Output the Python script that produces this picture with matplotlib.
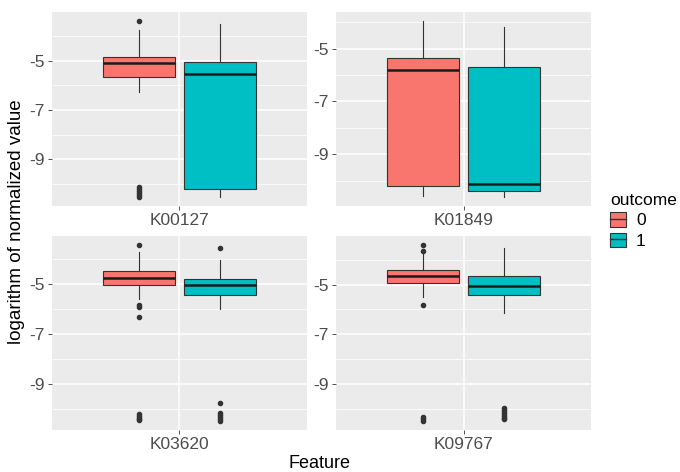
import numpy as np
import matplotlib
matplotlib.use("Agg")
import matplotlib.pyplot as plt
from matplotlib.patches import Patch
from matplotlib.lines import Line2D
from matplotlib.legend_handler import HandlerTuple

plt.rcParams['font.family'] = ['Liberation Sans', 'DejaVu Sans']

# box statistics per feature (outcome 0 / outcome 1), log scale values
features = ["K00127", "K01849", "K03620", "K09767"]

q1_0 = [-5.65, -10.19, -5.04, -4.92]
med_0 = [-5.10, -5.81, -4.77, -4.63]
q3_0 = [-4.85, -5.37, -4.51, -4.42]
lo_0 = [-6.28, -10.56, -5.60, -5.51]
hi_0 = [-3.77, -3.95, -3.74, -3.72]
fliers_0 = [
    [-3.39, -10.14, -10.22, -10.30, -10.38, -10.46, -10.54],
    [],
    [-3.45, -5.86, -5.94, -6.34, -10.19, -10.27, -10.35, -10.42, -10.46],
    [-3.39, -3.62, -5.82, -10.35, -10.42, -10.51],
]

q1_1 = [-10.22, -10.39, -5.44, -5.43]
med_1 = [-5.56, -10.14, -5.04, -5.04]
q3_1 = [-5.06, -5.68, -4.81, -4.63]
lo_1 = [-10.54, -10.62, -6.00, -6.14]
hi_1 = [-3.52, -4.18, -4.07, -3.52]
fliers_1 = [
    [],
    [],
    [-3.58, -9.75, -10.15, -10.25, -10.33, -10.41, -10.49],
    [-9.97, -10.05, -10.13, -10.21, -10.30, -10.37, -10.44],
]

outcomes = ["0", "1"]
fills = ["#F8766D", "#00BFC4"]
edge = "#333333"
bg = "#EBEBEB"

fig = plt.figure(figsize=(6.8, 4.72), dpi=100)

# panel rectangles in figure fractions
lefts = [52 / 680, 336 / 680, 52 / 680, 336 / 680]
bottoms = [1 - 206 / 472, 1 - 206 / 472, 1 - 430 / 472, 1 - 430 / 472]
w = 255 / 680
h = 194 / 472


def make_stats(i, q1, med, q3, lo, hi, fl):
    return dict(q1=q1[i], med=med[i], q3=q3[i], whislo=lo[i], whishi=hi[i],
                fliers=fl[i], label="")


for i, feat in enumerate(features):
    ax = fig.add_axes([lefts[i], bottoms[i], w, h])
    ax.set_facecolor(bg)
    groups = [make_stats(i, q1_0, med_0, q3_0, lo_0, hi_0, fliers_0),
              make_stats(i, q1_1, med_1, q3_1, lo_1, hi_1, fliers_1)]
    for k, st in enumerate(groups):
        pos = 1 - 0.19 if k == 0 else 1 + 0.19
        ax.bxp([st], positions=[pos], widths=0.34, patch_artist=True,
               showcaps=False, manage_ticks=False,
               boxprops=dict(facecolor=fills[k], edgecolor=edge, linewidth=0.8),
               whiskerprops=dict(color=edge, linewidth=0.8),
               medianprops=dict(color="#1a1a1a", linewidth=1.8),
               flierprops=dict(marker="o", markerfacecolor=edge,
                               markeredgecolor=edge, markersize=3),
               zorder=3)

    # y limits with 5% padding like ggplot
    vals = []
    for st in groups:
        vals += [st["whislo"], st["whishi"]] + list(st["fliers"])
    ymin, ymax = min(vals), max(vals)
    pad = 0.05 * (ymax - ymin)
    ax.set_ylim(ymin - pad, ymax + pad)
    ax.set_xlim(0.4, 1.6)

    ax.set_yticks([-9, -7, -5])
    ax.set_yticklabels(["-9", "-7", "-5"])
    ax.set_yticks([-10, -8, -6, -4], minor=True)
    ax.set_xticks([1])
    ax.set_xticklabels([feat])
    ax.grid(True, which="major", color="white", linewidth=1.1, zorder=0)
    ax.grid(True, which="minor", axis="y", color="white", linewidth=0.55, zorder=0)
    ax.set_axisbelow(True)
    ax.tick_params(which="major", length=3, width=0.6, color=edge,
                   labelcolor="#4D4D4D", labelsize=12.5, pad=2)
    ax.tick_params(which="minor", length=0)
    for s in ax.spines.values():
        s.set_visible(False)

fig.text(320 / 680, 1 - 463 / 472, "Feature", ha="center", va="center", fontsize=13)
fig.text(17 / 680, 1 - 222 / 472, "logarithm of normalized value", ha="center",
         va="center", rotation=90, fontsize=13.5)

# legend keys: filled box with a median line across
handles = [(Patch(facecolor=fills[k], edgecolor=edge, linewidth=0.8),
            Line2D([], [], color=edge, linewidth=1.0)) for k in range(2)]
leg = fig.legend(handles, outcomes, title="outcome", loc="upper left",
                 bbox_to_anchor=(603 / 680, 1 - 186 / 472), frameon=False,
                 fontsize=12.5, title_fontsize=12.5, handlelength=0.9,
                 handleheight=0.9, handletextpad=0.6, labelspacing=0.25,
                 alignment="left", borderaxespad=0,
                 handler_map={tuple: HandlerTuple(ndivide=1, pad=0)})

fig.savefig("out.png", dpi=100)
